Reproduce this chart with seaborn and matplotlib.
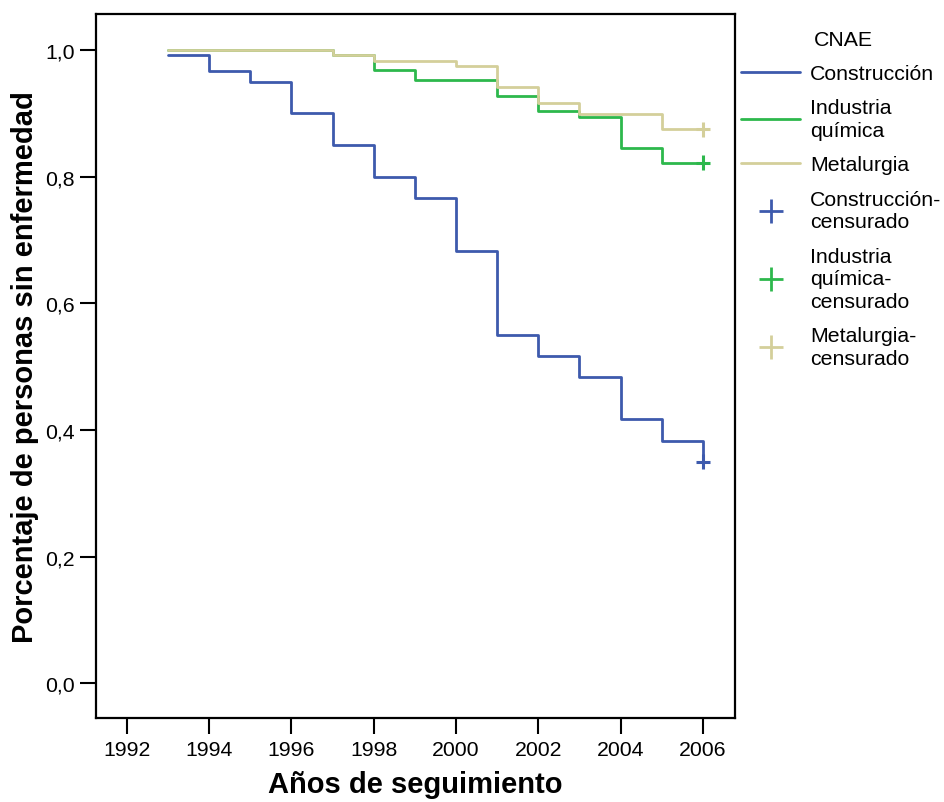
import seaborn as sns
import matplotlib.pyplot as plt
import matplotlib.lines as mlines
import pandas as pd

# Kaplan-Meier step values
years_cons = [1993, 1994, 1995, 1996, 1997, 1998, 1999, 2000, 2001, 2002, 2003, 2004, 2005, 2006]
surv_cons = [0.992, 0.967, 0.950, 0.900, 0.850, 0.800, 0.767, 0.683, 0.550, 0.517, 0.483, 0.417, 0.383, 0.350]

years_quim = [1993, 1997, 1998, 1999, 2001, 2002, 2003, 2004, 2005, 2006]
surv_quim = [1.000, 0.993, 0.968, 0.952, 0.928, 0.903, 0.895, 0.846, 0.822, 0.822]

years_metal = [1993, 1997, 1998, 2000, 2001, 2002, 2003, 2005, 2006]
surv_metal = [1.000, 0.993, 0.983, 0.975, 0.941, 0.916, 0.899, 0.875, 0.875]

groups = ["Construcción", "Industria química", "Metalurgia"]
censor_year = [2006, 2006, 2006]
censor_surv = [0.350, 0.822, 0.875]

colors = {"Construcción": "#3d5aad", "Industria química": "#2db84c", "Metalurgia": "#d4cf9a"}

sns.set_theme(style="ticks")
plt.rcParams["font.family"] = ["Liberation Sans", "DejaVu Sans"]
plt.rcParams["text.color"] = "black"
plt.rcParams["axes.labelcolor"] = "black"
plt.rcParams["xtick.color"] = "black"
plt.rcParams["ytick.color"] = "black"

df = pd.concat(
    [
        pd.DataFrame({"year": years_cons, "surv": surv_cons, "cnae": groups[0]}),
        pd.DataFrame({"year": years_quim, "surv": surv_quim, "cnae": groups[1]}),
        pd.DataFrame({"year": years_metal, "surv": surv_metal, "cnae": groups[2]}),
    ],
    ignore_index=True,
)
cens = pd.DataFrame({"year": censor_year, "surv": censor_surv, "cnae": groups})

fig = plt.figure(figsize=(9.45, 8.03), dpi=100)
ax = fig.add_axes([96 / 945, 1 - 719 / 803, 639 / 945, 704 / 803])

sns.lineplot(data=df, x="year", y="surv", hue="cnae", palette=colors, drawstyle="steps-post",
             estimator=None, sort=False, linewidth=2, legend=False, ax=ax)
sns.scatterplot(data=cens, x="year", y="surv", hue="cnae", palette=colors, marker="+",
                s=110, linewidth=2.2, legend=False, ax=ax, zorder=5)

ax.set_xlim(1991.25, 2006.78)
ax.set_ylim(-0.055, 1.057)
ax.set_xticks(range(1992, 2007, 2))
ax.set_yticks([0.0, 0.2, 0.4, 0.6, 0.8, 1.0])
ax.set_yticklabels(["0,0", "0,2", "0,4", "0,6", "0,8", "1,0"])
ax.tick_params(axis="both", direction="out", length=11.5, width=1.5, labelsize=15.3, pad=4, color="black")
for sp in ax.spines.values():
    sp.set_linewidth(1.6)
    sp.set_color("black")
    sp.set_visible(True)

ax.set_xlabel("Años de seguimiento", fontsize=21, fontweight="bold", labelpad=8)
ax.set_ylabel("Porcentaje de personas sin enfermedad", fontsize=21, fontweight="bold", labelpad=4)

handles = [mlines.Line2D([], [], color=colors[g], lw=2) for g in groups]
handles += [mlines.Line2D([], [], color=colors[g], lw=0, marker="+", markersize=17, markeredgewidth=2)
            for g in groups]
labels = ["Construcción", "Industria\nquímica", "Metalurgia",
          "Construcción-\ncensurado", "Industria\nquímica-\ncensurado", "Metalurgia-\ncensurado"]
fig.text(814 / 945, 1 - 40 / 803, "CNAE", fontsize=15.3, va="center", ha="left")
leg = fig.legend(handles, labels, loc="upper left", bbox_to_anchor=(741 / 945, 1 - 65 / 803),
                 frameon=False, fontsize=15.3, handlelength=2.8, handletextpad=0.45,
                 labelspacing=0.72, borderpad=0, borderaxespad=0)
for t in leg.get_texts():
    t.set_linespacing(1.25)

fig.savefig("out.png", dpi=100)
